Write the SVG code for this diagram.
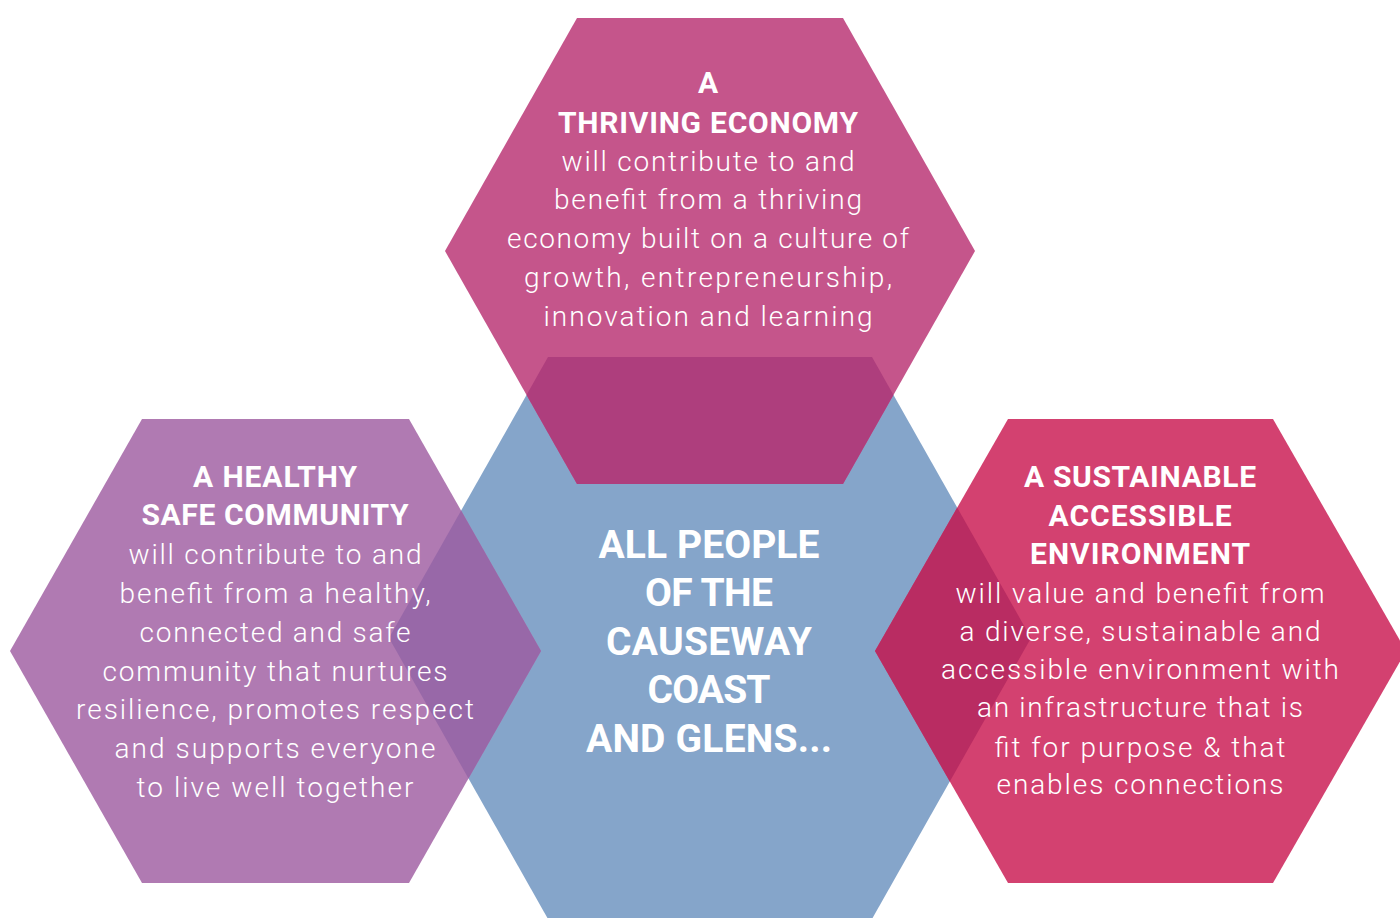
<svg xmlns="http://www.w3.org/2000/svg" width="1400" height="918" viewBox="0 0 1400 918">
<style>
.t{font-family:Roboto,"Liberation Sans",sans-serif;fill:#ffffff;text-anchor:middle}
.h{font-size:30px;font-weight:700}
.b{font-size:28px;font-weight:300}
.c{font-size:39px;font-weight:700}
</style>
<defs>
<clipPath id="clipBlue"><polygon points="548,357 872,357 1031,638 872,919 548,919 389,638"/></clipPath>
</defs>
<rect width="1400" height="918" fill="#ffffff"/>
<g id="node-center">
<polygon points="548,357 872,357 1031,638 872,919 548,919 389,638" fill="#85a5ca"/>
</g>
<g id="node-economy">
<polygon points="577,18 843,18 975,251 843,484 577,484 445,251" fill="#c5558b"/>
<polygon points="577,18 843,18 975,251 843,484 577,484 445,251" fill="#ae3e7d" clip-path="url(#clipBlue)"/>
<text class="t h" x="708" y="93">A</text>
<text class="t h" x="708" y="133" textLength="300" lengthAdjust="spacing">THRIVING ECONOMY</text>
<text class="t b" x="708" y="171" textLength="293" lengthAdjust="spacing">will contribute to and</text>
<text class="t b" x="708" y="209" textLength="308" lengthAdjust="spacing">benefit from a thriving</text>
<text class="t b" x="708" y="248" textLength="402" lengthAdjust="spacing">economy built on a culture of</text>
<text class="t b" x="708" y="287" textLength="368" lengthAdjust="spacing">growth, entrepreneurship,</text>
<text class="t b" x="708" y="326" textLength="329" lengthAdjust="spacing">innovation and learning</text>
</g>
<g id="node-community">
<polygon points="142,419 409,419 541,651 409,883 142,883 10,651" fill="#b07ab2"/>
<polygon points="142,419 409,419 541,651 409,883 142,883 10,651" fill="#9868a8" clip-path="url(#clipBlue)"/>
<text class="t h" x="275" y="487" textLength="164" lengthAdjust="spacing">A HEALTHY</text>
<text class="t h" x="275" y="525" textLength="267" lengthAdjust="spacing">SAFE COMMUNITY</text>
<text class="t b" x="275" y="564" textLength="293" lengthAdjust="spacing">will contribute to and</text>
<text class="t b" x="275" y="603" textLength="311" lengthAdjust="spacing">benefit from a healthy,</text>
<text class="t b" x="275" y="642" textLength="271" lengthAdjust="spacing">connected and safe</text>
<text class="t b" x="275" y="681" textLength="345" lengthAdjust="spacing">community that nurtures</text>
<text class="t b" x="275" y="719" textLength="398" lengthAdjust="spacing">resilience, promotes respect</text>
<text class="t b" x="275" y="758" textLength="321" lengthAdjust="spacing">and supports everyone</text>
<text class="t b" x="275" y="797" textLength="277" lengthAdjust="spacing">to live well together</text>
</g>
<g id="node-environment">
<polygon points="1008,419 1273,419 1406,651 1273,883 1008,883 875,651" fill="#d34170"/>
<polygon points="1008,419 1273,419 1406,651 1273,883 1008,883 875,651" fill="#b92c62" clip-path="url(#clipBlue)"/>
<text class="t h" x="1140" y="487" textLength="232" lengthAdjust="spacing">A SUSTAINABLE</text>
<text class="t h" x="1140" y="526" textLength="183" lengthAdjust="spacing">ACCESSIBLE</text>
<text class="t h" x="1140" y="564" textLength="220" lengthAdjust="spacing">ENVIRONMENT</text>
<text class="t b" x="1140" y="603" textLength="369" lengthAdjust="spacing">will value and benefit from</text>
<text class="t b" x="1140" y="641" textLength="361" lengthAdjust="spacing">a diverse, sustainable and</text>
<text class="t b" x="1140" y="679" textLength="398" lengthAdjust="spacing">accessible environment with</text>
<text class="t b" x="1140" y="717" textLength="326" lengthAdjust="spacing">an infrastructure that is</text>
<text class="t b" x="1140" y="757" textLength="291" lengthAdjust="spacing">fit for purpose &amp; that</text>
<text class="t b" x="1140" y="794" textLength="287" lengthAdjust="spacing">enables connections</text>
</g>
<g id="center-text">
<text class="t c" x="709" y="558" textLength="221" lengthAdjust="spacing">ALL PEOPLE</text>
<text class="t c" x="709" y="606" textLength="128" lengthAdjust="spacing">OF THE</text>
<text class="t c" x="709" y="655" textLength="206" lengthAdjust="spacing">CAUSEWAY</text>
<text class="t c" x="709" y="703" textLength="123" lengthAdjust="spacing">COAST</text>
<text class="t c" x="709" y="752" textLength="246" lengthAdjust="spacing">AND GLENS...</text>
</g>
</svg>
